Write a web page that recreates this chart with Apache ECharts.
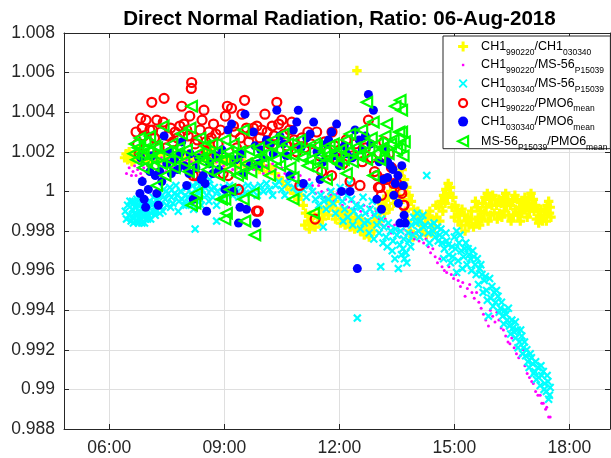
<!DOCTYPE html>
<html>
<head>
<meta charset="utf-8">
<title>Direct Normal Radiation, Ratio: 06-Aug-2018</title>
<script src="https://cdn.jsdelivr.net/npm/echarts@6.0.0/dist/echarts.min.js"></script>
<style>
  html, body { margin: 0; padding: 0; background: #fff; }
  #chart { width: 611px; height: 458px; }
</style>
</head>
<body>
<div id="chart"></div>
<script>
// Time of day in decimal hours, ratio value.
const hourTicks = [6, 9, 12, 15, 18];

// CH1 990220 / CH1 030340
const ratio990220to030340 = [
  [6.40,1.0017],[6.44,1.0019],[6.48,1.0016],[6.52,1.0020],[6.56,1.0018],[6.59,1.0015],
  [6.62,1.0018],[6.65,1.0016],[6.68,1.0020],[6.71,1.0017],[6.74,1.0019],[6.77,1.0021],[6.80,1.0016],[6.84,1.0018],
  [6.88,1.0020],[6.92,1.0017],[6.96,1.0019],[7.00,1.0015],[7.05,1.0018],[7.10,1.0016],[7.16,1.0019],[7.22,1.0017],
  [7.28,1.0015],[7.34,1.0018],[7.40,1.0016],[7.46,1.0019],[7.52,1.0017],[7.58,1.0020],[7.64,1.0018],[7.70,1.0016],
  [7.76,1.0019],[7.82,1.0017],[7.88,1.0015],[7.94,1.0018],[8.00,1.0016],[8.06,1.0019],[8.12,1.0017],[8.18,1.0014],
  [8.24,1.0017],[8.30,1.0015],[8.36,1.0018],[8.42,1.0020],[8.48,1.0017],[8.54,1.0021],[8.60,1.0019],[8.66,1.0022],
  [8.72,1.0018],[8.78,1.0016],[8.86,1.0019],[8.94,1.0016],[9.02,1.0014],[9.12,1.0017],[9.22,1.0015],[9.32,1.0013],
  [9.42,1.0016],[9.52,1.0014],[9.62,1.0012],[9.72,1.0015],[9.82,1.0013],[9.92,1.0011],[10.02,1.0013],[10.12,1.0010],
  [10.22,1.0012],[10.32,1.0009],[10.42,1.0007],[10.52,1.0005],[10.62,1.0003],[10.72,1.0001],[10.82,0.9999],[10.92,0.9996],
  [11.00,0.9998],[11.06,0.9993],[11.10,0.9983],[11.12,0.9989],[11.18,0.9985],[11.22,0.9981],[11.24,0.9988],[11.30,0.9984],
  [11.34,0.9988],[11.37,0.9982],[11.44,0.9987],[11.48,0.9984],[11.52,0.9991],[11.56,0.9986],[11.60,0.9989],[11.68,0.9995],
  [11.72,0.9988],[11.76,0.9992],[11.80,0.9993],[11.82,0.9998],[11.88,0.9995],[11.90,0.9986],[11.94,0.9990],[12.00,0.9988],
  [12.03,0.9984],[12.06,0.9991],[12.12,0.9987],[12.15,0.9983],[12.18,0.9990],[12.24,0.9986],[12.28,0.9982],[12.30,0.9989],
  [12.36,0.9985],[12.40,0.9981],[12.42,0.9987],[12.46,1.0061],[12.50,0.9984],[12.55,0.9980],[12.56,0.9986],[12.62,0.9983],
  [12.65,0.9978],[12.68,0.9981],[12.74,0.9984],[12.78,0.9977],[12.80,0.9980],[12.86,0.9983],[12.90,0.9980],[12.92,0.9985],
  [12.98,0.9988],[13.04,0.9991],[13.05,0.9985],[13.10,0.9994],[13.16,0.9996],[13.18,0.9989],[13.22,0.9993],[13.28,0.9997],
  [13.30,0.9991],[13.34,1.0000],[13.40,0.9998],[13.42,0.9994],[13.46,1.0002],[13.52,1.0005],[13.55,0.9998],[13.58,1.0008],
  [13.60,1.0003],[13.64,1.0011],[13.66,0.9996],[13.70,1.0006],[13.72,0.9990],[13.76,1.0002],[13.78,0.9985],[13.82,0.9998],
  [13.85,0.9980],[13.88,0.9995],[13.92,0.9977],[13.94,0.9991],[14.00,0.9988],[14.05,0.9990],[14.06,0.9986],[14.12,0.9983],
  [14.15,0.9988],[14.18,0.9980],[14.24,0.9984],[14.27,0.9978],[14.30,0.9987],[14.36,0.9990],[14.40,0.9979],[14.42,0.9986],
  [14.48,0.9982],[14.52,0.9993],[14.54,0.9987],[14.60,0.9992],[14.62,0.9985],[14.66,0.9995],[14.70,0.9990],[14.72,0.9998],
  [14.76,0.9994],[14.78,1.0001],[14.82,0.9997],[14.84,1.0004],[14.88,0.9999],[14.90,1.0002],[14.94,0.9992],[14.96,0.9997],
  [15.00,0.9987],[15.02,0.9993],[15.08,0.9990],[15.10,0.9985],[15.14,0.9988],[15.18,0.9983],[15.20,0.9991],[15.26,0.9988],
  [15.28,0.9980],[15.32,0.9985],[15.36,0.9987],[15.38,0.9983],[15.44,0.9986],[15.45,0.9990],[15.50,0.9982],[15.55,0.9995],
  [15.56,0.9984],[15.60,0.9992],[15.62,0.9987],[15.66,0.9983],[15.68,0.9990],[15.72,0.9986],[15.74,0.9994],[15.78,0.9989],
  [15.80,0.9997],[15.83,0.9992],[15.86,0.9999],[15.88,0.9985],[15.92,0.9996],[15.94,0.9988],[15.98,0.9993],[16.00,0.9998],
  [16.04,0.9989],[16.06,0.9996],[16.10,0.9993],[16.12,0.9986],[16.16,0.9996],[16.18,0.9989],[16.22,0.9994],[16.24,0.9987],
  [16.28,0.9997],[16.30,0.9990],[16.34,0.9999],[16.36,0.9993],[16.40,0.9996],[16.42,0.9988],[16.46,0.9993],[16.48,0.9985],
  [16.52,0.9995],[16.54,0.9988],[16.58,0.9998],[16.60,0.9991],[16.64,0.9996],[16.66,0.9988],[16.70,0.9992],[16.72,0.9985],
  [16.76,0.9989],[16.78,0.9995],[16.82,0.9991],[16.84,0.9997],[16.88,0.9994],[16.90,0.9987],[16.94,0.9997],[16.96,0.9990],
  [17.00,0.9999],[17.02,0.9993],[17.06,0.9996],[17.08,0.9990],[17.12,0.9993],[17.14,0.9986],[17.18,0.9990],[17.20,0.9984],
  [17.24,0.9987],[17.26,0.9991],[17.30,0.9985],[17.34,0.9988],[17.36,0.9990],[17.40,0.9985],[17.42,0.9993],[17.46,0.9995],
  [17.48,0.9989],[17.50,0.9992],[17.52,0.9987]
];

// CH1 990220 / MS-56 P15039
const ratio990220toMS56 = [
  [6.45,1.0009],[6.52,1.0012],[6.58,1.0008],
  [6.62,1.0010],[6.66,1.0013],[6.70,1.0008],[6.74,1.0011],[6.78,1.0014],[6.82,1.0009],[6.86,1.0007],[6.90,1.0012],
  [6.95,1.0010],[7.00,1.0013],[7.06,1.0009],[7.12,1.0012],[7.18,1.0015],[7.24,1.0011],[7.30,1.0014],[7.36,1.0017],
  [7.42,1.0013],[7.48,1.0010],[7.54,1.0014],[7.60,1.0016],[7.66,1.0012],[7.72,1.0015],[7.78,1.0018],[7.84,1.0014],
  [7.90,1.0017],[7.96,1.0013],[8.02,1.0016],[8.08,1.0019],[8.14,1.0015],[8.20,1.0018],[8.26,1.0014],[8.32,1.0017],
  [8.38,1.0020],[8.44,1.0016],[8.50,1.0019],[8.56,1.0021],[8.62,1.0017],[8.68,1.0014],[8.74,1.0018],[8.80,1.0015],
  [8.86,1.0019],[8.92,1.0016],[8.98,1.0013],[9.06,1.0017],[9.14,1.0014],[9.22,1.0011],[9.30,1.0015],[9.38,1.0012],
  [9.46,1.0016],[9.54,1.0013],[9.62,1.0010],[9.70,1.0014],[9.78,1.0011],[9.86,1.0015],[9.94,1.0012],[10.02,1.0009],
  [10.10,1.0013],[10.18,1.0010],[10.26,1.0014],[10.34,1.0011],[10.42,1.0008],[10.50,1.0012],[10.58,1.0009],[10.66,1.0006],
  [10.74,1.0010],[10.82,1.0007],[10.90,1.0004],[10.98,1.0008],[11.06,1.0005],[11.14,1.0002],[11.22,1.0006],[11.30,1.0003],
  [11.38,0.9999],[11.46,1.0003],[11.54,1.0000],[11.62,0.9997],[11.70,1.0001],[11.78,0.9998],[11.86,0.9995],[11.94,0.9999],
  [12.00,0.9997],[12.08,0.9993],[12.16,0.9996],[12.24,0.9992],[12.32,0.9995],[12.40,0.9991],[12.48,0.9994],[12.56,0.9990],
  [12.64,0.9993],[12.72,0.9989],[12.80,0.9992],[12.88,0.9988],[12.96,0.9990],[13.04,0.9986],[13.12,0.9983],[13.20,0.9986],
  [13.28,0.9982],[13.36,0.9979],[13.44,0.9983],[13.52,0.9980],[13.60,0.9977],[13.67,0.9981],[13.74,0.9978],[13.82,0.9982],
  [13.90,0.9979],[13.96,0.9976],[14.02,0.9979],[14.08,0.9975],[14.14,0.9978],[14.20,0.9974],[14.26,0.9976],[14.32,0.9972],
  [14.38,0.9969],[14.44,0.9971],[14.50,0.9967],[14.56,0.9964],[14.62,0.9966],[14.68,0.9962],[14.74,0.9960],[14.80,0.9959],
  [14.86,0.9962],[14.92,0.9958],[14.98,0.9956],[15.04,0.9958],[15.10,0.9955],[15.16,0.9952],[15.22,0.9954],[15.28,0.9947],
  [15.34,0.9951],[15.40,0.9953],[15.46,0.9949],[15.52,0.9946],[15.58,0.9949],[15.64,0.9944],[15.70,0.9941],[15.76,0.9938],
  [15.82,0.9935],[15.89,0.9932],[15.94,0.9940],[16.00,0.9937],[16.06,0.9934],[16.11,0.9939],[16.16,0.9935],[16.22,0.9931],
  [16.28,0.9930],[16.34,0.9927],[16.40,0.9924],[16.45,0.9923],[16.50,0.9926],[16.56,0.9921],[16.62,0.9918],[16.68,0.9916],
  [16.72,0.9917],[16.80,0.9920],[16.84,0.9912],[16.90,0.9908],[16.96,0.9906],[17.02,0.9904],[17.06,0.9903],[17.12,0.9899],
  [17.18,0.9897],[17.24,0.9897],[17.28,0.9893],[17.32,0.9893],[17.38,0.9890],[17.41,0.9891],[17.46,0.9886],[17.50,0.9886]
];

// CH1 030340 / MS-56 P15039
const ratio030340toMS56 = [
  [6.42,0.9990],[6.45,0.9986],[6.48,0.9993],[6.51,0.9988],[6.54,0.9995],[6.57,0.9985],
  [6.60,0.9991],[6.61,0.9995],[6.62,0.9987],[6.63,0.9984],[6.64,0.9994],[6.66,0.9989],[6.67,0.9992],[6.68,0.9985],
  [6.69,0.9988],[6.70,0.9992],[6.72,0.9996],[6.73,0.9985],[6.74,0.9988],[6.75,0.9993],[6.76,0.9984],[6.78,0.9990],
  [6.79,0.9987],[6.80,0.9993],[6.81,0.9996],[6.82,0.9986],[6.84,0.9989],[6.85,0.9984],[6.86,0.9995],[6.87,0.9992],
  [6.88,0.9991],[6.90,0.9987],[6.91,0.9994],[6.92,0.9984],[6.94,0.9989],[6.95,0.9986],[6.96,0.9993],[6.98,0.9990],
  [6.99,0.9994],[7.00,0.9986],[7.02,0.9988],[7.03,0.9992],[7.06,0.9995],[7.08,0.9986],[7.09,0.9989],[7.12,0.9993],
  [7.14,0.9990],[7.15,0.9997],[7.18,0.9994],[7.20,0.9988],[7.21,0.9990],[7.24,0.9996],[7.26,0.9993],[7.27,0.9999],
  [7.30,0.9995],[7.32,0.9989],[7.34,0.9992],[7.38,0.9998],[7.40,0.9990],[7.42,1.0001],[7.46,0.9996],[7.50,0.9993],
  [7.54,0.9999],[7.58,1.0002],[7.60,0.9992],[7.62,0.9997],[7.66,0.9994],[7.70,0.9999],[7.74,1.0003],[7.78,0.9998],
  [7.80,0.9990],[7.82,0.9995],[7.86,1.0000],[7.90,0.9996],[7.94,0.9993],[7.98,0.9998],[8.00,0.9993],[8.02,1.0002],
  [8.06,0.9997],[8.10,0.9994],[8.14,0.9999],[8.18,1.0003],[8.20,0.9991],[8.22,0.9998],[8.24,0.9981],[8.26,1.0001],
  [8.30,1.0004],[8.34,0.9999],[8.38,0.9996],[8.40,0.9993],[8.42,1.0001],[8.46,1.0005],[8.50,1.0002],[8.54,0.9998],
  [8.58,1.0003],[8.60,0.9995],[8.62,1.0006],[8.66,1.0001],[8.70,0.9997],[8.74,1.0002],[8.80,0.9985],[8.80,0.9993],
  [8.82,1.0000],[8.90,0.9997],[8.98,1.0002],[9.06,0.9999],[9.14,1.0003],[9.22,0.9998],[9.30,1.0001],[9.38,0.9997],
  [9.46,1.0002],[9.54,0.9999],[9.62,1.0003],[9.70,0.9999],[9.78,1.0002],[9.86,0.9998],[9.94,1.0003],[10.02,1.0000],
  [10.10,1.0004],[10.18,1.0001],[10.26,0.9998],[10.34,1.0003],[10.42,1.0005],[10.50,1.0001],[10.58,0.9998],[10.66,1.0004],
  [10.74,1.0007],[10.82,1.0002],[10.90,0.9999],[10.98,1.0004],[11.06,1.0001],[11.14,0.9997],[11.22,1.0003],[11.30,1.0000],
  [11.38,0.9996],[11.46,0.9993],[11.52,0.9998],[11.58,0.9982],[11.60,0.9995],[11.66,0.9991],[11.72,0.9996],[11.78,1.0000],
  [11.84,0.9994],[11.90,0.9989],[11.96,0.9997],[12.02,1.0002],[12.08,0.9995],[12.10,0.9985],[12.14,0.9991],[12.20,0.9998],
  [12.22,0.9987],[12.26,1.0004],[12.32,0.9996],[12.35,0.9983],[12.38,0.9990],[12.44,0.9993],[12.47,0.9936],[12.50,0.9987],
  [12.55,0.9981],[12.56,0.9992],[12.62,0.9997],[12.65,0.9984],[12.68,0.9989],[12.74,0.9985],[12.78,0.9979],[12.80,0.9991],
  [12.86,0.9995],[12.90,0.9976],[12.92,0.9988],[12.98,0.9983],[13.00,0.9990],[13.04,0.9979],[13.08,0.9962],[13.10,0.9986],
  [13.14,0.9974],[13.16,0.9982],[13.22,0.9977],[13.25,0.9972],[13.28,0.9984],[13.34,0.9980],[13.38,0.9970],[13.40,0.9975],
  [13.45,0.9966],[13.46,0.9981],[13.50,0.9978],[13.54,0.9961],[13.58,0.9973],[13.60,0.9980],[13.62,0.9968],[13.66,0.9971],
  [13.68,0.9976],[13.70,0.9966],[13.74,0.9969],[13.76,0.9964],[13.80,0.9979],[13.82,0.9975],[13.86,0.9972],[13.88,0.9983],
  [13.92,0.9978],[13.94,0.9987],[14.00,0.9984],[14.03,0.9989],[14.06,0.9980],[14.10,0.9977],[14.12,0.9985],[14.18,0.9988],
  [14.20,0.9982],[14.24,0.9983],[14.28,1.0008],[14.32,0.9979],[14.35,0.9974],[14.38,0.9983],[14.44,0.9980],[14.47,0.9984],
  [14.50,0.9977],[14.56,0.9982],[14.58,0.9975],[14.62,0.9978],[14.65,0.9981],[14.68,0.9974],[14.72,0.9966],[14.74,0.9971],
  [14.78,0.9979],[14.80,0.9975],[14.84,0.9973],[14.86,0.9968],[14.90,0.9964],[14.94,0.9972],[14.96,0.9967],[15.00,0.9977],
  [15.03,0.9971],[15.06,0.9980],[15.06,0.9959],[15.10,0.9965],[15.12,0.9974],[15.15,0.9978],[15.18,0.9970],[15.21,0.9961],
  [15.24,0.9967],[15.27,0.9971],[15.30,0.9974],[15.33,0.9963],[15.36,0.9971],[15.39,0.9968],[15.42,0.9966],[15.45,0.9960],
  [15.48,0.9970],[15.51,0.9967],[15.54,0.9963],[15.57,0.9958],[15.60,0.9966],[15.63,0.9953],[15.66,0.9961],[15.69,0.9963],
  [15.72,0.9958],[15.75,0.9949],[15.78,0.9955],[15.81,0.9957],[15.84,0.9950],[15.86,0.9945],[15.89,0.9937],[15.92,0.9956],
  [15.95,0.9946],[15.98,0.9952],[16.01,0.9942],[16.04,0.9949],[16.08,0.9944],[16.10,0.9950],[16.14,0.9947],[16.17,0.9939],
  [16.20,0.9941],[16.23,0.9944],[16.26,0.9937],[16.29,0.9933],[16.32,0.9940],[16.35,0.9938],[16.38,0.9935],[16.41,0.9941],
  [16.44,0.9932],[16.47,0.9928],[16.50,0.9935],[16.53,0.9931],[16.56,0.9929],[16.59,0.9934],[16.60,0.9926],[16.64,0.9930],
  [16.66,0.9921],[16.70,0.9924],[16.73,0.9930],[16.76,0.9927],[16.78,0.9918],[16.80,0.9921],[16.83,0.9924],[16.86,0.9917],
  [16.89,0.9920],[16.92,0.9914],[16.95,0.9911],[16.98,0.9918],[17.01,0.9916],[17.04,0.9913],[17.07,0.9908],[17.10,0.9909],
  [17.12,0.9914],[17.14,0.9905],[17.18,0.9911],[17.20,0.9906],[17.24,0.9902],[17.26,0.9912],[17.28,0.9907],[17.32,0.9909],
  [17.34,0.9900],[17.36,0.9903],[17.40,0.9899],[17.42,0.9907],[17.44,0.9904],[17.46,0.9895],[17.48,0.9897],[17.50,0.9901]
];

// CH1 990220 / PMO6 mean
const ratio990220toPMO6 = [
  [6.70,1.0030],[6.74,1.0024],
  [6.78,1.0019],[6.82,1.0037],[6.86,1.0032],[6.90,1.0028],[6.96,1.0036],[7.02,1.0025],[7.06,1.0031],[7.11,1.0045],
  [7.13,1.0031],[7.18,1.0027],[7.24,1.0036],[7.30,1.0022],[7.35,1.0030],[7.41,1.0035],[7.43,1.0047],[7.48,1.0022],
  [7.54,1.0028],[7.60,1.0032],[7.66,1.0025],[7.72,1.0030],[7.78,1.0027],[7.84,1.0033],[7.89,1.0043],[7.95,1.0034],
  [8.02,1.0031],[8.06,1.0028],[8.10,1.0038],[8.14,1.0052],[8.15,1.0055],[8.19,1.0008],[8.24,1.0024],[8.28,1.0008],
  [8.30,1.0026],[8.37,1.0031],[8.42,1.0036],[8.47,1.0041],[8.52,1.0025],[8.54,1.0020],[8.60,1.0030],[8.66,1.0027],
  [8.72,1.0034],[8.78,1.0029],[8.84,1.0024],[8.90,1.0031],[8.97,1.0009],[9.03,1.0038],[9.08,1.0043],[9.10,1.0008],
  [9.19,1.0042],[9.24,1.0033],[9.28,1.0030],[9.32,1.0022],[9.37,1.0001],[9.42,1.0027],[9.46,1.0039],[9.53,1.0046],
  [9.58,1.0032],[9.64,1.0025],[9.70,1.0029],[9.76,1.0032],[9.84,0.9990],[9.85,1.0033],[9.89,0.9990],[9.93,1.0027],
  [9.98,1.0031],[10.06,1.0039],[10.12,1.0030],[10.18,1.0024],[10.25,1.0033],[10.30,1.0028],[10.37,1.0045],[10.42,1.0034],
  [10.50,1.0036],[10.56,1.0029],[10.62,1.0023],[10.70,1.0031],[10.76,1.0035],[10.82,1.0026],[10.88,1.0020],[10.97,1.0003],
  [11.02,1.0027],[11.10,1.0022],[11.18,1.0030],[11.26,1.0024],[11.37,0.9986],[11.41,1.0030],[11.48,1.0018],[11.54,1.0010],
  [11.62,1.0025],[11.70,1.0020],[11.80,1.0008],[11.81,1.0030],[11.88,1.0023],[11.95,1.0016],[12.02,1.0021],[12.10,1.0014],
  [12.18,1.0026],[12.28,1.0005],[12.35,1.0018],[12.42,1.0024],[12.54,1.0003],[12.60,1.0015],[12.68,1.0022],[12.76,1.0036],
  [12.84,1.0017],[12.92,1.0010],[12.98,1.0008],[13.02,1.0002],[13.06,1.0002],[13.10,0.9998],[13.15,1.0006],[13.16,1.0025],
  [13.19,1.0018],[13.24,1.0006],[13.30,1.0019],[13.36,1.0012],[13.42,1.0004],[13.50,1.0004],[13.59,1.0000],[13.63,0.9999],
  [13.67,0.9993],[13.69,0.9993]
];

// CH1 030340 / PMO6 mean
const ratio030340toPMO6 = [
  [6.80,0.9999],[6.82,1.0017],[6.86,1.0005],[6.91,0.9996],[6.95,0.9992],[7.02,1.0001],[7.06,1.0010],[7.12,1.0018],
  [7.20,1.0008],[7.24,0.9999],[7.28,0.9993],[7.32,1.0010],[7.37,1.0005],[7.43,1.0028],[7.50,1.0014],[7.56,1.0020],
  [7.62,1.0009],[7.70,1.0016],[7.78,1.0011],[7.84,1.0019],[7.89,1.0025],[7.96,1.0013],[8.02,1.0003],[8.08,1.0009],
  [8.11,1.0019],[8.19,0.9996],[8.26,1.0012],[8.33,1.0017],[8.40,1.0006],[8.45,1.0008],[8.50,1.0004],[8.54,0.9990],
  [8.62,1.0014],[8.70,1.0009],[8.78,1.0018],[8.86,1.0011],[8.94,1.0021],[9.02,1.0001],[9.10,1.0031],[9.19,1.0034],
  [9.24,1.0000],[9.30,1.0016],[9.37,0.9984],[9.41,0.9992],[9.45,1.0019],[9.50,1.0009],[9.54,1.0039],[9.58,0.9991],
  [9.67,1.0013],[9.76,1.0030],[9.80,1.0023],[9.84,0.9984],[9.89,1.0014],[9.95,1.0021],[10.02,1.0017],[10.10,1.0026],
  [10.19,1.0024],[10.28,1.0019],[10.37,1.0041],[10.45,1.0028],[10.54,1.0024],[10.62,1.0018],[10.71,1.0008],[10.80,1.0031],
  [10.89,1.0035],[10.93,1.0041],[11.00,1.0022],[11.06,1.0004],[11.15,1.0027],[11.24,1.0029],[11.33,1.0035],[11.42,1.0020],
  [11.50,1.0006],[11.58,1.0015],[11.66,1.0024],[11.72,1.0026],[11.80,1.0030],[11.87,1.0018],[11.93,1.0034],[12.00,1.0013],
  [12.06,1.0000],[12.13,1.0023],[12.19,1.0019],[12.28,1.0000],[12.34,1.0017],[12.41,1.0031],[12.47,0.9961],[12.52,1.0026],
  [12.60,1.0021],[12.68,1.0028],[12.76,1.0049],[12.82,1.0024],[12.89,1.0041],[12.98,0.9996],[13.04,1.0015],[13.10,0.9991],
  [13.15,1.0006],[13.20,1.0021],[13.26,1.0015],[13.26,1.0007],[13.33,1.0013],[13.40,1.0011],[13.42,0.9998],[13.46,1.0004],
  [13.53,1.0008],[13.54,0.9994],[13.58,0.9984],[13.63,1.0013],[13.67,1.0003],[13.69,0.9988],[13.72,0.9984]
];

// MS-56 P15039 / PMO6 mean
const ratioMS56toPMO6 = [
  [6.64,1.0019],[6.67,1.0024],
  [6.71,1.0016],[6.75,1.0022],[6.80,1.0027],[6.84,1.0019],[6.89,1.0021],[6.89,1.0012],[6.94,1.0025],[6.98,1.0015],
  [7.02,1.0020],[7.06,1.0028],[7.10,1.0017],[7.15,1.0013],[7.20,1.0023],[7.24,1.0022],[7.24,1.0003],[7.30,1.0018],
  [7.37,1.0014],[7.41,1.0033],[7.46,1.0008],[7.52,1.0020],[7.58,1.0016],[7.64,1.0024],[7.70,1.0012],[7.76,1.0019],
  [7.82,1.0022],[7.89,1.0029],[7.95,1.0015],[8.02,1.0021],[8.07,1.0010],[8.11,1.0032],[8.15,1.0043],[8.15,0.9993],
  [8.19,1.0013],[8.24,0.9994],[8.28,0.9999],[8.33,1.0019],[8.37,1.0027],[8.41,1.0017],[8.45,1.0015],[8.50,1.0023],
  [8.56,1.0011],[8.62,1.0018],[8.68,1.0024],[8.74,1.0014],[8.80,1.0020],[8.86,1.0008],[8.93,0.9996],[8.93,1.0016],
  [9.02,1.0026],[9.02,1.0016],[9.02,0.9996],[9.02,0.9986],[9.06,0.9989],[9.10,1.0020],[9.15,1.0011],[9.15,1.0001],
  [9.20,1.0018],[9.24,1.0024],[9.30,1.0014],[9.35,1.0008],[9.41,1.0020],[9.45,1.0009],[9.50,1.0031],[9.50,0.9996],
  [9.54,0.9985],[9.58,1.0014],[9.64,1.0021],[9.70,1.0010],[9.76,0.9999],[9.80,0.9978],[9.84,1.0016],[9.85,1.0013],
  [9.90,1.0022],[9.96,1.0018],[10.02,1.0014],[10.11,1.0019],[10.19,1.0008],[10.24,1.0023],[10.28,1.0026],[10.34,1.0016],
  [10.40,1.0021],[10.45,1.0013],[10.54,1.0029],[10.60,1.0019],[10.66,1.0024],[10.72,1.0012],[10.80,1.0018],[10.80,1.0007],
  [10.80,0.9996],[10.88,1.0022],[10.97,1.0026],[11.04,1.0017],[11.10,1.0021],[11.18,1.0013],[11.24,1.0016],[11.33,0.9989],
  [11.36,1.0024],[11.41,1.0023],[11.41,1.0011],[11.48,1.0018],[11.55,1.0014],[11.62,1.0020],[11.67,1.0018],[11.67,1.0006],
  [11.74,1.0023],[11.80,1.0016],[11.85,1.0024],[11.92,1.0019],[11.98,1.0014],[12.04,1.0021],[12.11,1.0016],[12.19,1.0026],
  [12.19,1.0009],[12.24,1.0020],[12.28,1.0029],[12.35,1.0015],[12.41,1.0022],[12.48,1.0018],[12.54,1.0018],[12.59,1.0031],
  [12.65,1.0024],[12.72,1.0045],[12.72,1.0016],[12.78,1.0021],[12.84,1.0027],[12.89,1.0035],[12.89,1.0008],[12.95,1.0019],
  [13.00,1.0024],[13.06,1.0016],[13.12,1.0022],[13.15,1.0021],[13.20,1.0028],[13.24,1.0034],[13.28,1.0019],[13.34,1.0024],
  [13.41,1.0026],[13.46,1.0043],[13.50,1.0021],[13.56,1.0030],[13.59,1.0046],[13.59,1.0023],[13.63,1.0041],[13.63,1.0030],
  [13.67,1.0018],[13.70,1.0025]
];

const FONT = '"Liberation Sans", Arial, Helvetica, sans-serif';
const AXIS_COLOR = '#262626';
const GRID_COLOR = '#dfdfdf';

// Marker shapes
const PLUS = 'path://M3.3,0h3.4v3.3h3.3v3.4h-3.3v3.3h-3.4v-3.3h-3.3v-3.4h3.3z';
const CROSS = 'path://M0,1.8L1.8,0L5,3.2L8.2,0L10,1.8L6.8,5L10,8.2L8.2,10L5,6.8L1.8,10L0,8.2L3.2,5Z';
const TRI_LEFT = 'path://M0,5L10,0L10,10Z';

// Legend icons drawn inside a 14x14 box so their relative sizes stay fixed
const ICON_PLUS = 'path://M0,0M14,14M5.5,2h3v3.5h3.5v3h-3.5v3.5h-3v-3.5h-3.5v-3h3.5z';
const ICON_DOT = 'path://M0,0M14,14M5.8,5.8h2.4v2.4h-2.4z';
const ICON_CROSS = 'path://M0,0M14,14M2.5,3.8L3.8,2.5L7,5.7L10.2,2.5L11.5,3.8L8.3,7L11.5,10.2L10.2,11.5L7,8.3L3.8,11.5L2.5,10.2L5.7,7Z';
const ICON_RING = 'path://M0,0M14,14M3,7A4,4,0,1,1,11,7A4,4,0,1,1,3,7Z';
const ICON_DISC = 'path://M0,0M14,14M2,7A5,5,0,1,1,12,7A5,5,0,1,1,2,7Z';
const ICON_TRI = 'path://M0,0M14,14M2,7L12,2L12,12Z';

const seriesDefs = [
  { name: 'CH1_990220/CH1_030340', data: ratio990220to030340, symbol: PLUS, size: 9.5,
    style: { color: '#ffff00' }, icon: ICON_PLUS },
  { name: 'CH1_990220/MS-56_P15039', data: ratio990220toMS56, symbol: 'circle', size: 3,
    style: { color: '#ff00ff' }, icon: ICON_DOT },
  { name: 'CH1_030340/MS-56_P15039', data: ratio030340toMS56, symbol: CROSS, size: 8.5,
    style: { color: '#00ffff' }, icon: ICON_CROSS },
  { name: 'CH1_990220/PMO6_mean', data: ratio990220toPMO6, symbol: 'circle', size: 9,
    style: { color: 'rgba(255,255,255,0)', borderColor: '#ff0000', borderWidth: 2.2 }, icon: ICON_RING },
  { name: 'CH1_030340/PMO6_mean', data: ratio030340toPMO6, symbol: 'circle', size: 9,
    style: { color: '#0000ff' }, icon: ICON_DISC },
  { name: 'MS-56_P15039/PMO6_mean', data: ratioMS56toPMO6, symbol: TRI_LEFT, size: 10.5,
    style: { color: 'rgba(255,255,255,0)', borderColor: '#00ff00', borderWidth: 2.2 }, icon: ICON_TRI }
];

// "A_sub/B_sub" -> rich text with subscripts
function legendText(name) {
  return ('{m|' + name.replace(/_([A-Za-z0-9]+)/g, '}{s|$1}{m|') + '}').replace(/\{m\|\}/g, '');
}

function hourLabel(h) {
  return (h < 10 ? '0' : '') + h + ':00';
}

const chart = echarts.init(document.getElementById('chart'), null, { renderer: 'canvas' });

chart.setOption({
  animation: false,
  backgroundColor: '#ffffff',
  title: {
    text: 'Direct Normal Radiation, Ratio: 06-Aug-2018',
    left: 339.5,
    top: 9,
    padding: 0,
    textAlign: 'center',
    textStyle: { fontFamily: FONT, fontSize: 20.6, fontWeight: 'bold', color: '#000000' }
  },
  grid: { left: 64, right: 1, top: 33, bottom: 29, containLabel: false },
  legend: {
    orient: 'vertical',
    left: 443,
    top: 36,
    padding: [3.5, 3, -3, 12],
    itemGap: 1,
    itemWidth: 26,
    itemHeight: 14,
    backgroundColor: '#ffffff',
    borderColor: AXIS_COLOR,
    borderWidth: 1,
    borderRadius: 0,
    selectedMode: false,
    formatter: legendText,
    textStyle: {
      color: '#000000',
      fontFamily: FONT,
      rich: {
        m: { fontFamily: FONT, fontSize: 12.5, lineHeight: 21, color: '#000000' },
        s: { fontFamily: FONT, fontSize: 8.5, lineHeight: 8.5, verticalAlign: 'bottom', color: '#000000' }
      }
    },
    data: seriesDefs.map(d => ({ name: d.name, icon: d.icon, itemStyle: { borderWidth: d.style.borderWidth || 0 } }))
  },
  xAxis: [
    {
      type: 'value',
      min: 4.82,
      max: 19.06,
      position: 'bottom',
      axisLine: { show: true, onZero: false, lineStyle: { color: AXIS_COLOR, width: 1 } },
      axisTick: { show: true, inside: true, length: 5, customValues: hourTicks, lineStyle: { color: AXIS_COLOR } },
      axisLabel: { customValues: hourTicks, formatter: hourLabel, color: AXIS_COLOR, fontFamily: FONT, fontSize: 17.5, margin: 10 },
      splitLine: { show: true, lineStyle: { color: GRID_COLOR, width: 1 } }
    },
    {
      type: 'value',
      min: 4.82,
      max: 19.06,
      position: 'top',
      axisLine: { show: true, onZero: false, lineStyle: { color: AXIS_COLOR, width: 1 } },
      axisTick: { show: true, inside: true, length: 5, customValues: hourTicks, lineStyle: { color: AXIS_COLOR } },
      axisLabel: { show: false },
      splitLine: { show: false }
    }
  ],
  yAxis: [
    {
      type: 'value',
      min: 0.988,
      max: 1.008,
      interval: 0.002,
      position: 'left',
      axisLine: { show: true, onZero: false, lineStyle: { color: AXIS_COLOR, width: 1 } },
      axisTick: { show: true, inside: true, length: 5, lineStyle: { color: AXIS_COLOR } },
      axisLabel: {
        formatter: v => String(parseFloat(v.toFixed(3))),
        color: AXIS_COLOR, fontFamily: FONT, fontSize: 17.5, margin: 9
      },
      splitLine: { show: true, lineStyle: { color: GRID_COLOR, width: 1 } }
    },
    {
      type: 'value',
      min: 0.988,
      max: 1.008,
      interval: 0.002,
      position: 'right',
      axisLine: { show: true, onZero: false, lineStyle: { color: AXIS_COLOR, width: 1 } },
      axisTick: { show: true, inside: true, length: 5, lineStyle: { color: AXIS_COLOR } },
      axisLabel: { show: false },
      splitLine: { show: false }
    }
  ],
  series: seriesDefs.map(d => ({
    name: d.name,
    type: 'scatter',
    xAxisIndex: 0,
    yAxisIndex: 0,
    data: d.data,
    symbol: d.symbol,
    symbolSize: d.size,
    itemStyle: Object.assign({ opacity: 1 }, d.style),
    silent: true,
    emphasis: { disabled: true }
  }))
});
</script>
</body>
</html>
